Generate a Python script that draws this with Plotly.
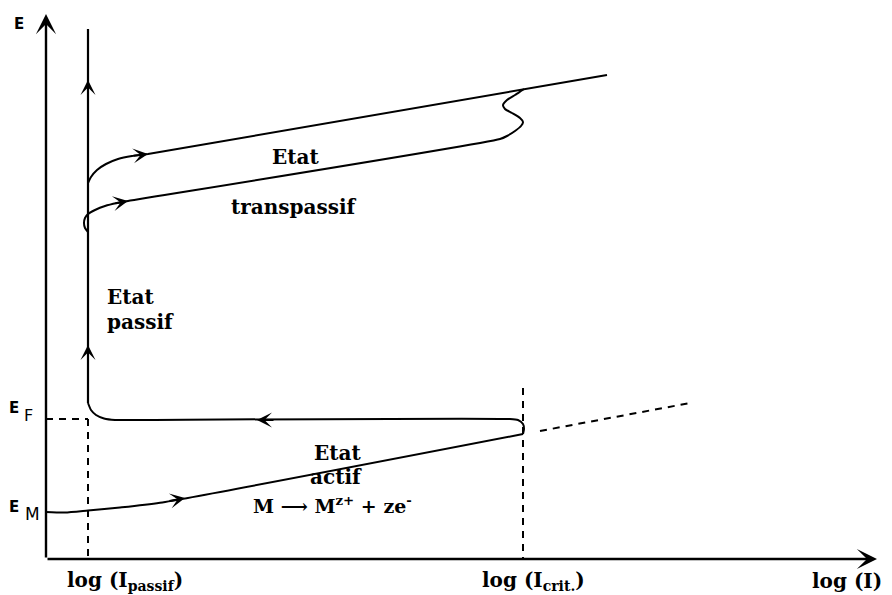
import plotly.graph_objects as go

# Diagram coordinates: x = log(I) units, y = potential E units (both schematic)
X_RANGE = [0, 892]
Y_RANGE = [0, 595]

# Axes (origin and arrow tips)
axis_origin = (46, 36)
e_axis_tip = (46, 581)
i_axis_tip = (877, 36)

# Vertical passive branch at log(I_passif)
passive_x = [88, 88]
passive_y = [192, 566]

# Passivation knee, return plateau at E_F and hook down to the active line
plateau_x = [88, 91, 96, 104, 115, 130, 510, 518, 523, 524, 523]
plateau_y = [192, 185, 180, 176.5, 175, 175, 176, 175, 171, 166, 161]

# Active branch from E_M up to log(I_crit.)
active_x = [46, 65, 88, 120, 160, 523]
active_y = [83, 82.5, 84.5, 87.5, 92.3, 161]

# Extrapolation of the active branch (dashed)
active_ext_x = [540, 690]
active_ext_y = [164, 192]

# Transpassive branch, lower curve with its S-shaped return
trans_low_x = [88, 85, 84, 85, 88, 95, 105, 117, 128, 500, 507, 515, 521, 523,
               520, 512, 505, 503, 507, 515, 521, 524]
trans_low_y = [363, 367, 372, 377, 381, 385, 389, 392, 394, 456, 459, 464, 469, 473,
               477, 482, 486, 490, 495, 500, 504, 506]

# Transpassive branch, upper curve
trans_up_x = [88, 91, 97, 106, 118, 132, 148, 607]
trans_up_y = [412, 418, 425, 431, 436, 439, 441, 520]

# Dashed guide lines
ef_guide_x = [46, 88]
ef_guide_y = [176, 176]
ipass_guide_x = [88, 88]
ipass_guide_y = [176, 36]
icrit_guide_x = [523, 523]
icrit_guide_y = [207, 36]

# Direction arrows on the curves: (tip x, tip y, tail x, tail y)
curve_arrows = [
    (88, 515, 88, 495),
    (88, 250, 88, 230),
    (128, 394, 114, 391.5),
    (148, 441, 132, 439),
    (257, 175, 275, 175),
    (185, 97, 168, 93.8),
]

INK = "#000000"
SERIF = "DejaVu Serif"
SANS = "DejaVu Sans"

fig = go.Figure()

def add_line(xs, ys, width=2.0, dash="solid"):
    fig.add_trace(go.Scatter(
        x=xs, y=ys, mode="lines",
        line=dict(color=INK, width=width, dash=dash, shape="spline", smoothing=0.6),
        hoverinfo="skip", showlegend=False,
    ))

add_line(passive_x, passive_y, width=2.2)
add_line(plateau_x, plateau_y)
add_line(active_x, active_y)
add_line(trans_low_x, trans_low_y)
add_line(trans_up_x, trans_up_y)

DASH = "7px,6px"
add_line(active_ext_x, active_ext_y, dash=DASH)
add_line(ef_guide_x, ef_guide_y, dash=DASH)
add_line(ipass_guide_x, ipass_guide_y, dash=DASH)
add_line(icrit_guide_x, icrit_guide_y, dash=DASH)

annotations = []

# Axis arrows
for tip in (e_axis_tip, i_axis_tip):
    annotations.append(dict(
        x=tip[0], y=tip[1], ax=axis_origin[0], ay=axis_origin[1],
        xref="x", yref="y", axref="x", ayref="y",
        text="", showarrow=True, arrowhead=3, arrowsize=1.4,
        arrowwidth=2.4, arrowcolor=INK,
    ))

# Direction arrowheads along the curves
for tx, ty, sx, sy in curve_arrows:
    annotations.append(dict(
        x=tx, y=ty, ax=sx, ay=sy,
        xref="x", yref="y", axref="x", ayref="y",
        text="", showarrow=True, arrowhead=3, arrowsize=1.25,
        arrowwidth=2.0, arrowcolor=INK,
    ))

def label(x, y, text, size=20, family=SERIF, weight="bold", xanchor="center"):
    annotations.append(dict(
        x=x, y=y, xref="x", yref="y", text=text, showarrow=False,
        xanchor=xanchor, yanchor="middle",
        font=dict(family=family, size=size, color=INK, weight=weight),
    ))

# Axis names and potential marks
label(19, 571, "E", size=15, family=SANS)
label(14, 187, "E", size=15, family=SANS)
label(28, 180, "F", size=16, family=SANS, weight="normal")
label(14, 88, "E", size=15, family=SANS)
label(32, 81, "M", size=17, family=SANS, weight="normal")

# Region labels
label(295, 438, "Etat")
label(294, 388, "transpassif")
label(105, 298, "Etat", xanchor="left")
label(105, 273, "passif", xanchor="left")
label(337, 142, "Etat")
label(336, 118, "actif")
label(332, 90, "M ⟶ M<sup>z+</sup> + ze<sup>-</sup>", size=19)

# Current labels under the abscissa
label(65, 14, "log (I<sub>passif</sub>)", xanchor="left")
label(480, 14, "log (I<sub>crit.</sub>)", xanchor="left")
label(810, 14, "log (I)", xanchor="left")

fig.update_layout(
    width=892, height=595,
    margin=dict(l=0, r=0, t=0, b=0),
    paper_bgcolor="white", plot_bgcolor="white",
    xaxis=dict(range=X_RANGE, visible=False, fixedrange=True),
    yaxis=dict(range=Y_RANGE, visible=False, fixedrange=True),
    annotations=annotations,
    showlegend=False,
)

fig.write_html("out.html")
